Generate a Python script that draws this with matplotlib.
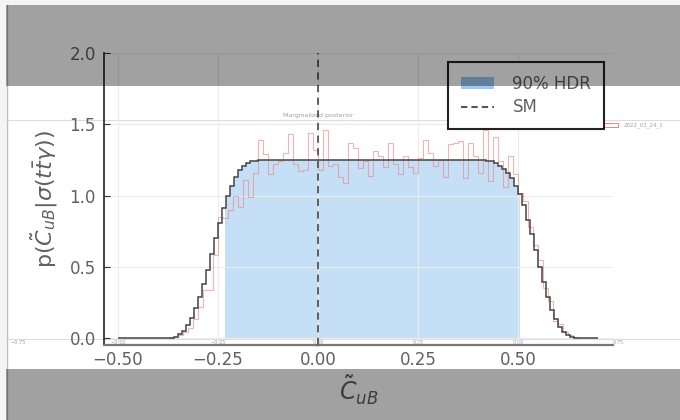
import numpy as np
import matplotlib
matplotlib.use("Agg")
import matplotlib.pyplot as plt
from matplotlib.patches import Rectangle, Patch
from matplotlib.lines import Line2D

W, H = 680, 420

# smooth posterior (black step curve): bin edges and heights
curve_edges = np.concatenate([[-0.50], np.round(np.arange(-0.37, -0.145, 0.01), 2),
                              np.round(np.arange(0.42, 0.645, 0.01), 2), [0.70]])
curve_vals = ([0.0] +
              [0.003, 0.01, 0.025, 0.05, 0.09, 0.14, 0.21, 0.29, 0.38, 0.48, 0.59,
               0.70, 0.81, 0.91, 1.00, 1.07, 1.13, 1.18, 1.21, 1.23, 1.24, 1.245] +
              [1.25] +
              [1.245, 1.24, 1.225, 1.205, 1.185, 1.155, 1.12, 1.07, 1.01, 0.93, 0.83,
               0.73, 0.62, 0.50, 0.39, 0.29, 0.20, 0.13, 0.08, 0.04, 0.02, 0.007] +
              [0.0])

# raw sampled histogram (faint red)
hist_edges = np.round(-0.375 + 0.0125 * np.arange(83), 4)
hist_vals = [0.0, 0.005, 0.02, 0.04, 0.07, 0.13, 0.22, 0.34, 0.34, 0.58,
             0.85, 0.84, 0.90, 1.00, 0.92, 1.11, 0.99, 1.16, 1.39, 1.29,
             1.15, 1.22, 1.24, 1.30, 1.43, 1.22, 1.17, 1.18, 1.44, 1.32,
             1.18, 1.46, 1.21, 1.22, 1.13, 1.09, 1.37, 1.33, 1.19, 1.24,
             1.14, 1.31, 1.28, 1.20, 1.37, 1.22, 1.15, 1.28, 1.20, 1.16,
             1.26, 1.39, 1.30, 1.21, 1.25, 1.13, 1.36, 1.37, 1.38, 1.12,
             1.37, 1.28, 1.16, 1.46, 1.10, 1.41, 1.24, 1.06, 1.28, 1.15,
             1.02, 0.96, 0.78, 0.65, 0.55, 0.35, 0.26, 0.12, 0.10, 0.04,
             0.02, 0.005]

hdr_lo, hdr_hi = -0.232, 0.505
sm_value = 0.0

xticks = [-0.50, -0.25, 0.00, 0.25, 0.50]
yticks = [0.0, 0.5, 1.0, 1.5, 2.0]
bg_tick_labels = ["\u22120.75", "\u22120.50", "\u22120.25", "0.00", "0.25", "0.50", "0.75"]
bg_tick_vals = [-0.75, -0.50, -0.25, 0.00, 0.25, 0.50, 0.75]


def fx(px):
    return px / W


def fy(py):
    return 1 - py / H


fig = plt.figure(figsize=(W / 100, H / 100), dpi=100, facecolor="white")

# light outer border of the screenshot
fig.add_artist(Rectangle((0, fy(5)), 1, 5 / H, transform=fig.transFigure,
                         color="#f4f4f4", lw=0, zorder=-5))
fig.add_artist(Rectangle((0, 0), fx(6), 1, transform=fig.transFigure,
                         color="#f4f4f4", lw=0, zorder=-5))
fig.add_artist(Line2D([fx(6.5), fx(6.5)], [0, fy(5)], transform=fig.transFigure,
                      color="#bbbbbb", lw=1, zorder=-4))

ax = fig.add_axes([fx(104), fy(345), fx(613) - fx(104), fy(53) - fy(345)])
ax.patch.set_alpha(0)

# faint background plot pieces
bg_grey = "#a0a0a0"
fig.add_artist(Line2D([fx(6), 1], [fy(120), fy(120)], transform=fig.transFigure,
                      color="#dddddd", lw=0.8, zorder=-3))
fig.add_artist(Line2D([fx(6), 1], [fy(339), fy(339)], transform=fig.transFigure,
                      color="#dddddd", lw=0.8, zorder=-3))
fig.text(fx(318), fy(116), "Marginalized posterior", fontsize=4.5, color=bg_grey,
         ha="center", va="center", zorder=-3)
for v, lab in zip(bg_tick_vals, bg_tick_labels):
    ax.text(v, -0.031, lab, fontsize=3.6, color=bg_grey, ha="center", va="center",
            clip_on=False, zorder=0)
ax.text(0.0, -0.056, r"$C_{uB}$", fontsize=2.4, color=bg_grey, ha="center", va="center",
        clip_on=False, zorder=0)
fig.add_artist(Rectangle((fx(600), fy(127)), fx(18), 4 / H, transform=fig.transFigure,
                         facecolor="none", edgecolor="#f08080", lw=0.7, zorder=-3))
fig.text(fx(624), fy(125), "2022_03_24_1", fontsize=4, color=bg_grey,
         ha="left", va="center", zorder=-3)

# main plot
ax.grid(True, color="#ececec", lw=0.8, zorder=0)
fill = ax.stairs(curve_vals, curve_edges, fill=True, color="#c4dff6", lw=0, zorder=1)
fill.set_clip_path(Rectangle((hdr_lo, -1), hdr_hi - hdr_lo, 4, transform=ax.transData))
ax.stairs(hist_vals, hist_edges, color="#f08080", lw=0.8, alpha=0.6, zorder=2)
ax.stairs(curve_vals, curve_edges, color="#444444", lw=1.1, zorder=3)
ax.axvline(sm_value, color="#555555", ls=(0, (4, 3)), lw=1.3, zorder=4)

ax.set_xlim(-0.535, 0.7375)
ax.set_ylim(-0.049, 2.0)
ax.set_xticks(xticks)
ax.set_yticks(yticks)

txt = "#606060"
for s in ["top", "right"]:
    ax.spines[s].set_visible(False)
ax.spines["left"].set_color("#333333")
ax.spines["left"].set_linewidth(1.3)
ax.spines["bottom"].set_color("#777777")
ax.spines["bottom"].set_linewidth(1.6)
ax.tick_params(axis="y", direction="in", length=4, color="#333333", pad=6,
               labelsize=12, labelcolor=txt)
ax.tick_params(axis="x", direction="in", length=0, pad=4, labelsize=12, labelcolor=txt)

ax.set_ylabel(r"p($\tilde{C}_{uB}|\sigma(t\bar{t}\gamma)$)", fontsize=16, color=txt)
ax.yaxis.set_label_coords(-0.086, 0.5)
ax.set_xlabel(r"$\tilde{C}_{uB}$", fontsize=17, color=txt)
ax.xaxis.set_label_coords(0.5, -0.1)

handles = [Patch(facecolor="#9cc8f5", edgecolor="none", label="90% HDR"),
           Line2D([], [], color="#555555", ls=(0, (3, 2)), lw=1.5, label="SM")]
leg = ax.legend(handles=handles, loc="upper right", fontsize=12, fancybox=False,
                framealpha=1, edgecolor="#222222", labelcolor=txt,
                borderpad=0.75, labelspacing=0.35, handletextpad=1.1,
                borderaxespad=0.55)
leg.get_frame().set_linewidth(1.5)
leg.set_zorder(10)

# grey bands over the screenshot
fig.add_artist(Rectangle((fx(6), fy(86)), 1 - fx(6), 81 / H, transform=fig.transFigure,
                         color="black", alpha=0.37, lw=0, zorder=100))
fig.add_artist(Rectangle((fx(6), 0), 1 - fx(6), fy(369), transform=fig.transFigure,
                         color="black", alpha=0.37, lw=0, zorder=100))

fig.savefig("out.png", dpi=100)
